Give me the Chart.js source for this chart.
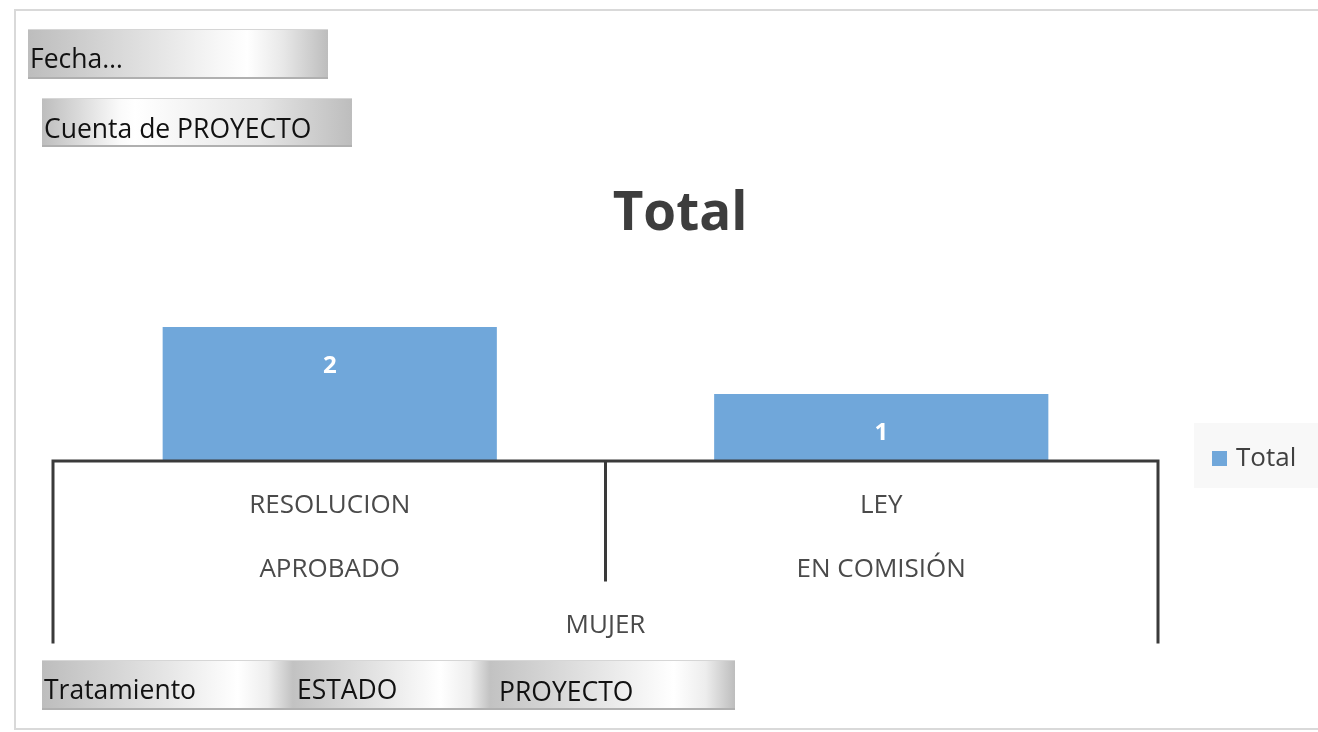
<!DOCTYPE html>
<html><head><meta charset="utf-8">
<script src="https://cdn.jsdelivr.net/npm/chart.js@4"></script>
<style>
html,body{margin:0;padding:0;background:#fff;}
body{width:1318px;height:732px;position:relative;overflow:hidden;font-family:"Open Sans",sans-serif;}
#frame{position:absolute;left:14px;top:9px;width:1330px;height:721px;border:2px solid #d9d9d9;box-sizing:border-box;}
#wrap{position:absolute;left:0;top:0;width:1318px;height:732px;}
.box{position:absolute;box-sizing:border-box;border-bottom:2px solid #b0b0b0;border-top:1px solid #d6d6d6;}
.txt{position:absolute;color:#111;font-size:26.5px;line-height:26.5px;white-space:nowrap;}
</style></head>
<body>
<div id="frame"></div>
<div class="box" style="left:28px;top:29px;width:300px;height:50px;background:linear-gradient(90deg,#bdbdbd 0%,#f4f4f4 60%,#ffffff 73%,#e8e8e8 85%,#bdbdbd 100%);"></div>
<div class="box" style="left:42px;top:98px;width:310px;height:49px;background:linear-gradient(90deg,#bdbdbd 0%,#fafafa 25%,#ffffff 30%,#e6e6e6 70%,#bdbdbd 100%);"></div>
<div class="box" style="left:42px;top:660px;width:251px;height:50px;background:linear-gradient(90deg,#bdbdbd 0%,#e6e6e6 50%,#ffffff 78%,#ededed 90%,#c2c2c2 100%);"></div>
<div class="box" style="left:293px;top:660px;width:197px;height:50px;background:linear-gradient(90deg,#c2c2c2 0%,#e6e6e6 45%,#ffffff 75%,#ededed 90%,#c2c2c2 100%);"></div>
<div class="box" style="left:490px;top:660px;width:245px;height:50px;background:linear-gradient(90deg,#c2c2c2 0%,#e6e6e6 45%,#ffffff 75%,#ededed 88%,#bdbdbd 100%);"></div>
<div id="wrap"><canvas id="c" width="1318" height="732"></canvas></div>
<span class="txt" style="left:30px;top:44.5px;">Fecha…</span>
<span class="txt" style="left:44px;top:114.5px;">Cuenta de PROYECTO</span>
<span class="txt" style="left:44px;top:675.5px;">Tratamiento</span>
<span class="txt" style="left:297px;top:675.5px;">ESTADO</span>
<span class="txt" style="left:499px;top:677.5px;">PROYECTO</span>
<script>
// ---- data ----
const tipos = ['RESOLUCION', 'LEY'];          // level 1 (PROYECTO)
const estados = ['APROBADO', 'EN COMISIÓN'];  // level 2 (ESTADO)
const tratamiento = ['MUJER'];                // level 3 (Tratamiento)
const totals = [2, 1];                        // Cuenta de PROYECTO
const seriesName = 'Total';
const chartTitle = 'Total';

const FONT = '"Open Sans", sans-serif';
const BAR = '#70A7DA';

const decor = {
  id: 'decor',
  afterDatasetsDraw(chart) {
    const ctx = chart.ctx;
    const xs = chart.scales.x, ys = chart.scales.y;
    const y0 = ys.getPixelForValue(0);
    const left = xs.left, right = xs.right;
    const c0 = xs.getPixelForValue(0), c1 = xs.getPixelForValue(1);
    const mid = (c0 + c1) / 2;
    ctx.save();
    // value labels
    const meta = chart.getDatasetMeta(0);
    ctx.fillStyle = '#ffffff';
    ctx.font = 'bold 24px ' + FONT;
    ctx.textAlign = 'center';
    ctx.textBaseline = 'alphabetic';
    meta.data.forEach((bar, i) => {
      ctx.fillText(String(totals[i]), bar.x, bar.y + 46);
    });
    // axis brackets
    ctx.strokeStyle = '#3a3a3a';
    ctx.lineWidth = 3;
    ctx.lineCap = 'square';
    ctx.beginPath();
    ctx.moveTo(left - 1, y0); ctx.lineTo(right + 1, y0);
    ctx.moveTo(left - 1, y0); ctx.lineTo(left - 1, y0 + 181);
    ctx.moveTo(right + 1, y0); ctx.lineTo(right + 1, y0 + 181);
    ctx.moveTo(mid, y0); ctx.lineTo(mid, y0 + 119);
    ctx.stroke();
    // category labels
    ctx.fillStyle = '#4a4a4a';
    ctx.font = '26px ' + FONT;
    tipos.forEach((t, i) => ctx.fillText(t, xs.getPixelForValue(i), y0 + 52));
    estados.forEach((t, i) => ctx.fillText(t, xs.getPixelForValue(i), y0 + 116));
    ctx.fillText(tratamiento[0], (left + right) / 2, y0 + 172);
    // title
    ctx.fillStyle = '#3d3d3d';
    ctx.font = 'bold 53px ' + FONT;
    ctx.fillText(chartTitle, 680, 230);
    // legend
    ctx.fillStyle = '#f8f8f8';
    ctx.fillRect(1194, 423, 130, 65);
    const ds = chart.data.datasets[0];
    ctx.fillStyle = ds.backgroundColor;
    ctx.fillRect(1212, 451, 15, 15);
    ctx.fillStyle = '#404040';
    ctx.font = '26px ' + FONT;
    ctx.textAlign = 'left';
    ctx.fillText(ds.label, 1236, 466);
    ctx.restore();
  }
};

new Chart(document.getElementById('c'), {
  type: 'bar',
  data: {
    labels: tipos,
    datasets: [{ label: seriesName, data: totals, backgroundColor: BAR, borderWidth: 0,
                 categoryPercentage: 1, barPercentage: 0.606 }]
  },
  options: {
    responsive: false,
    animation: false,
    layout: { padding: { left: 54, right: 161, top: 260, bottom: 271 } },
    scales: {
      x: { display: false },
      y: { display: false, min: 0, max: 3 }
    },
    plugins: { legend: { display: false }, title: { display: false }, tooltip: { enabled: false } }
  },
  plugins: [decor]
});
</script>
</body></html>
